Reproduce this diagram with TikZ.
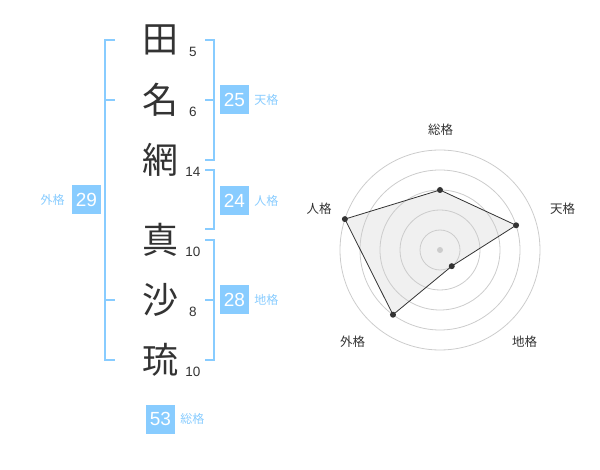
\documentclass[tikz,border=0pt]{standalone}
\usepackage{fontspec}
\setmainfont{Liberation Sans}
\newfontfamily\jpfont{Noto Sans CJK JP}
\usetikzlibrary{positioning}
\definecolor{kblue}{HTML}{88CCFF}
\definecolor{kdark}{HTML}{333333}
\definecolor{kgrid}{HTML}{CCCCCC}
\definecolor{kfill}{HTML}{F0F0F0}
\tikzset{
	kanji/.style = {font=\jpfont\fontsize{36}{36}\selectfont, text=kdark, inner sep=0},
	strokes/.style = {font=\fontsize{13.5}{13.5}\selectfont, text=kdark, inner sep=0},
	score/.style = {fill=kblue, text=white, minimum size=29, inner sep=0, font=\fontsize{19}{19}\selectfont},
	kaku/.style = {font=\jpfont\fontsize{12}{12}\selectfont, text=kblue, inner sep=0},
	axis/.style = {font=\jpfont\fontsize{12.5}{12.5}\selectfont, text=kdark, inner sep=0},
	dot/.style = {circle, fill=kdark, inner sep=0, minimum size=6},
	bracket/.style = {draw=kblue, line width=2}}

\begin{document}
\begin{tikzpicture}[x=1pt, y=-1pt]
\useasboundingbox (0,0) rectangle (600,470);

% NODES
% name and stroke counts
\foreach \k/\y [count=\i] in {田/40, 名/100, 網/160, 真/240, 沙/300, 琉/360}
	\node (c\i) [kanji] at (160,\y) {\k};
\foreach \n/\y [count=\i] in {5/52, 6/112, 14/172, 10/252, 8/312, 10/372}
	\node (n\i) [strokes] at (193,\y) {\n};
% scores
\node (ten) [score] at (234.5,100) {25};
\node (tenlabel) [kaku, right=5pt of ten] {天格};
\node (jin) [score] at (234.5,200.5) {24};
\node (jinlabel) [kaku, right=5pt of jin] {人格};
\node (chi) [score] at (234.5,300) {28};
\node (chilabel) [kaku, right=5pt of chi] {地格};
\node (gai) [score] at (86.5,200) {29};
\node (gailabel) [kaku, left=7pt of gai] {外格};
\node (sou) [score] at (160.5,419) {53};
\node (soulabel) [kaku, right=5pt of sou] {総格};

% BRACKETS
\draw [bracket] (115,40) -| (105,360) -- (115,360);
\draw [bracket] (105,100) -- (115,100);
\draw [bracket] (105,300) -- (115,300);
\draw [bracket] (205,40) -| (214,160) -- (205,160);
\draw [bracket] (205,100) -- (214,100);
\draw [bracket] (205,170) -| (214,229) -- (205,229);
\draw [bracket] (205,240) -| (214,360) -- (205,360);
\draw [bracket] (205,300) -- (214,300);

% RADAR
\begin{scope}[shift={(440,250)}, yscale=-1]
	\coordinate (rsou) at (90:60);
	\coordinate (rten) at (18:80);
	\coordinate (rchi) at (-54:20);
	\coordinate (rgai) at (-126:80);
	\coordinate (rjin) at (162:100);
	\fill [kfill] (rsou) -- (rten) -- (rchi) -- (rgai) -- (rjin) -- cycle;
	\foreach \r in {20,40,...,100}
		\draw [kgrid, line width=0.8] (0,0) circle (\r pt);
	\node (hub) [circle, fill=kgrid, inner sep=0, minimum size=6] at (0,0) {};
	\draw [kdark, line width=0.8] (rsou) -- (rten) -- (rchi) -- (rgai) -- (rjin) -- cycle;
	\foreach \p in {rsou, rten, rchi, rgai, rjin}
		\node (d\p) [dot] at (\p) {};
\end{scope}
\node (lsou) [axis] at (440.5,130) {総格};
\node (lten) [axis] at (562.5,208.5) {天格};
\node (lchi) [axis] at (524.5,342) {地格};
\node (lgai) [axis] at (352.5,342) {外格};
\node (ljin) [axis] at (319,208.5) {人格};

\end{tikzpicture}
\end{document}
